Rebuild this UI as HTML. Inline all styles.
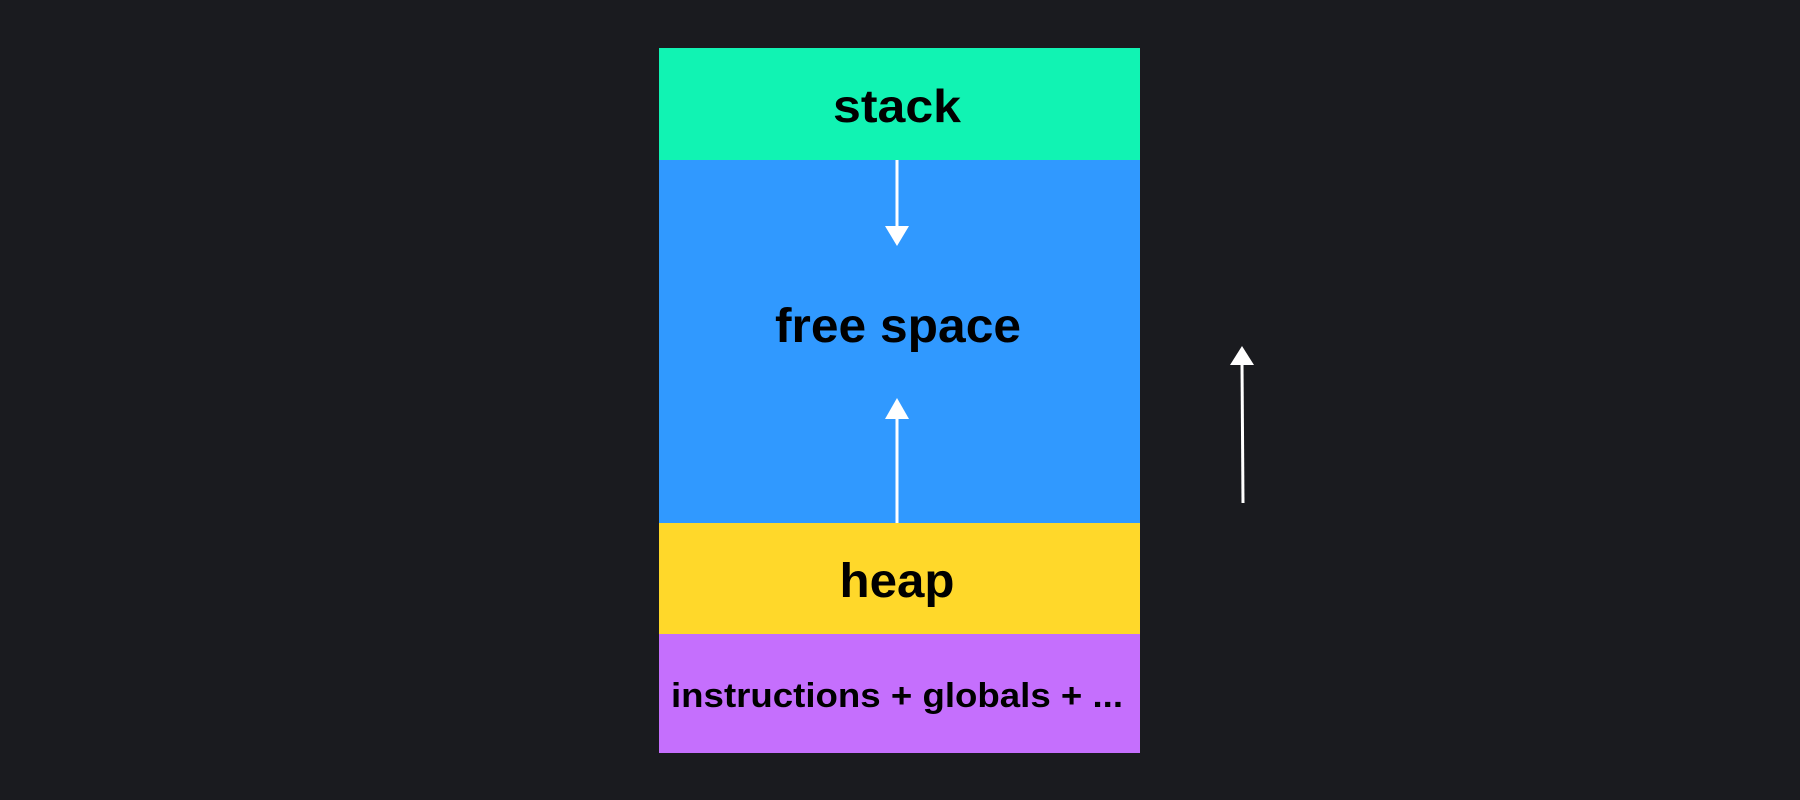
<!DOCTYPE html>
<html><head><style>html,body{margin:0;padding:0;background:#1a1b1f;}</style></head>
<body>
<svg width="1800" height="800" xmlns="http://www.w3.org/2000/svg" style="display:block">
<rect width="1800" height="800" fill="#1a1b1f"/>
<rect x="659" y="48" width="481" height="112" fill="#11f3b3"/>
<rect x="659" y="160" width="481" height="363" fill="#3099ff"/>
<rect x="659" y="523" width="481" height="111" fill="#ffd82a"/>
<rect x="659" y="634" width="481" height="119" fill="#c56ffd"/>
<g font-family="Liberation Sans, sans-serif" font-weight="bold" fill="#000" text-anchor="middle">
<text x="897" y="122" font-size="46" textLength="128" lengthAdjust="spacingAndGlyphs">stack</text>
<text x="898" y="342" font-size="48" textLength="246" lengthAdjust="spacingAndGlyphs">free space</text>
<text x="897" y="597" font-size="48" textLength="115" lengthAdjust="spacingAndGlyphs">heap</text>
<text x="897" y="707" font-size="34" textLength="452" lengthAdjust="spacingAndGlyphs">instructions + globals + ...</text>
</g>
<g fill="#fff" stroke="#fff">
<line x1="897" y1="160" x2="897" y2="228" stroke-width="3"/>
<polygon points="885,226 909,226 897,246" stroke="none"/>
<line x1="897" y1="523" x2="897" y2="417" stroke-width="3"/>
<polygon points="885,419 909,419 897,398" stroke="none"/>
<line x1="1243" y1="503" x2="1242" y2="363" stroke-width="3"/>
<polygon points="1230,365 1254,365 1242,346" stroke="none"/>
</g>
</svg>
</body></html>
